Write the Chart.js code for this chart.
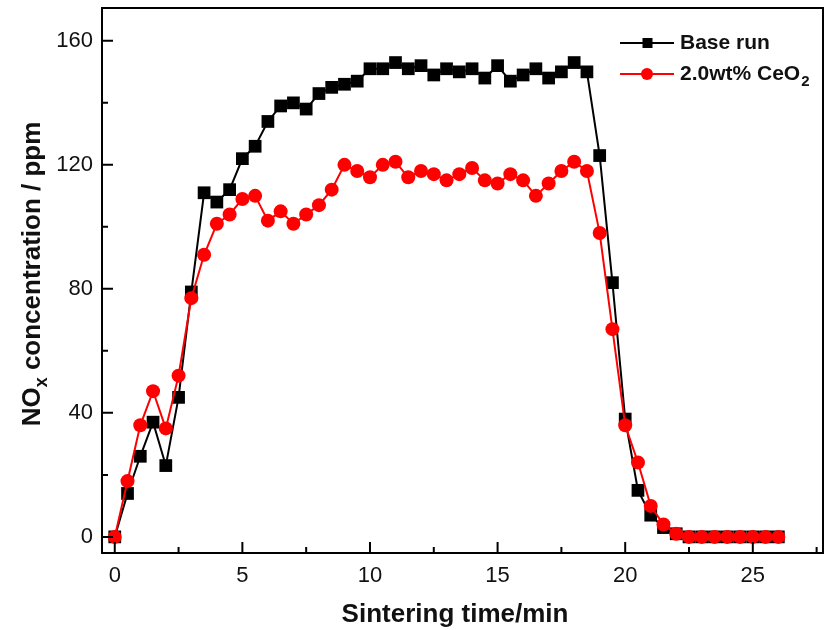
<!DOCTYPE html>
<html><head><meta charset="utf-8">
<script src="https://cdn.jsdelivr.net/npm/chart.js@4"></script>
<style>html,body{margin:0;padding:0;background:#fff}#wrap{width:825px;height:630px}</style>
</head><body><div id="wrap"><canvas id="c" width="825" height="630"></canvas></div>
<script>
// ---- data ----
const times = [0,0.5,1,1.5,2,2.5,3,3.5,4,4.5,5,5.5,6,6.5,7,7.5,8,8.5,9,9.5,10,10.5,11,11.5,12,12.5,13,13.5,14,14.5,15,15.5,16,16.5,17,17.5,18,18.5,19,19.5,20,20.5,21,21.5,22,22.5,23,23.5,24,24.5,25,25.5,26];
const baseRun = [0,14,26,37,23,45,79,111,108,112,122,126,134,139,140,138,143,145,146,147,151,151,153,151,152,149,151,150,151,148,152,147,149,151,148,150,153,150,123,82,38,15,7,3,1,0,0,0,0,0,0,0,0];
const ceo2 = [0,18,36,47,35,52,77,91,101,104,109,110,102,105,101,104,107,112,120,118,116,120,121,116,118,117,115,117,119,115,114,117,115,110,114,118,121,118,98,67,36,24,10,4,1,0,0,0,0,0,0,0,0];
const xTickValues = [0,5,10,15,20,25];
const xMinorTicks = [2.5,7.5,12.5,17.5,22.5,27.5];
const yTickValues = [0,40,80,120,160];
const yMinorTicks = [20,60,100,140];
const seriesNames = ['Base run','2.0wt% CeO2'];
const xTitle = 'Sintering time/min';

const toPts = vals => times.map((t,i)=>({x:t,y:vals[i]}));
const FONT = '"Liberation Sans", Arial, Helvetica, sans-serif';

const decor = {
  id:'decor',
  afterDraw(chart){
    const ctx = chart.ctx, a = chart.chartArea;
    const xs = chart.scales.x, ys = chart.scales.y;
    ctx.save();
    ctx.strokeStyle = '#000'; ctx.lineWidth = 2;
    // box top & right
    ctx.beginPath();
    ctx.moveTo(a.left-1, a.top); ctx.lineTo(a.right, a.top); ctx.lineTo(a.right, a.bottom+1);
    ctx.stroke();
    // inward ticks
    ctx.beginPath();
    xTickValues.forEach(v=>{const p=xs.getPixelForValue(v); ctx.moveTo(p,a.bottom); ctx.lineTo(p,a.bottom-11);});
    xMinorTicks.forEach(v=>{const p=xs.getPixelForValue(v); ctx.moveTo(p,a.bottom); ctx.lineTo(p,a.bottom-6);});
    yTickValues.forEach(v=>{const p=ys.getPixelForValue(v); ctx.moveTo(a.left,p); ctx.lineTo(a.left+11,p);});
    yMinorTicks.forEach(v=>{const p=ys.getPixelForValue(v); ctx.moveTo(a.left,p); ctx.lineTo(a.left+6,p);});
    ctx.stroke();

    // x title
    ctx.fillStyle = '#111';
    ctx.font = 'bold 26px ' + FONT;
    ctx.textAlign = 'center'; ctx.textBaseline = 'alphabetic';
    ctx.fillText(xTitle, 455, 622);

    // y title with subscript x
    ctx.save();
    ctx.translate(40, 274);
    ctx.rotate(-Math.PI/2);
    const big = 'bold 26px ' + FONT, small = 'bold 18px ' + FONT;
    const p1 = 'NO', p2 = 'x', p3 = ' concentration / ppm';
    ctx.font = big; const w1 = ctx.measureText(p1).width, w3 = ctx.measureText(p3).width;
    ctx.font = small; const w2 = ctx.measureText(p2).width;
    let sx = -(w1+w2+w3)/2;
    ctx.textAlign = 'left';
    ctx.font = big; ctx.fillText(p1, sx, 0); sx += w1;
    ctx.font = small; ctx.fillText(p2, sx, 7); sx += w2;
    ctx.font = big; ctx.fillText(p3, sx, 0);
    ctx.restore();

    // legend
    const rows = [
      {y:43, color:'#000', style:'rect', label:[seriesNames[0]]},
      {y:74, color:'#ff0000', style:'circle', label:['2.0wt% CeO','2']}
    ];
    rows.forEach(r=>{
      ctx.strokeStyle = r.color; ctx.fillStyle = r.color; ctx.lineWidth = 2;
      ctx.beginPath(); ctx.moveTo(620, r.y); ctx.lineTo(674, r.y); ctx.stroke();
      ctx.beginPath();
      if (r.style==='rect') ctx.rect(642.5, r.y-5, 10, 10);
      else ctx.arc(647, r.y, 6, 0, Math.PI*2);
      ctx.fill();
      ctx.fillStyle = '#111'; ctx.textAlign='left'; ctx.textBaseline='middle';
      ctx.font = 'bold 21px ' + FONT;
      ctx.fillText(r.label[0], 680, r.y);
      if (r.label[1]) {
        const w = ctx.measureText(r.label[0]).width;
        ctx.font = 'bold 15px ' + FONT;
        ctx.fillText(r.label[1], 680 + w + 1, r.y + 8);
      }
    });
    ctx.restore();
  }
};

new Chart(document.getElementById('c'), {
  type:'line',
  data:{datasets:[
    {label:seriesNames[0], data:toPts(baseRun), borderColor:'#000', backgroundColor:'#000',
     pointStyle:'rect', pointRadius:9, pointHoverRadius:9, pointBorderWidth:0, pointBackgroundColor:'#000',
     borderWidth:2, tension:0, order:1},
    {label:seriesNames[1], data:toPts(ceo2), borderColor:'#ff0000', backgroundColor:'#ff0000',
     pointStyle:'circle', pointRadius:7, pointHoverRadius:7, pointBorderWidth:0, pointBackgroundColor:'#ff0000',
     borderWidth:2, tension:0, order:0}
  ]},
  options:{
    responsive:false, animation:false, devicePixelRatio:1,
    layout:{autoPadding:false, padding:{top:8,right:2,left:0,bottom:0}},
    plugins:{legend:{display:false}, tooltip:{enabled:false}},
    scales:{
      x:{type:'linear', min:-0.5, max:27.75,
        afterBuildTicks:s=>{s.ticks = xTickValues.map(v=>({value:v}));},
        afterFit:s=>{s.height = 77; s.paddingLeft = 0; s.paddingRight = 0;},
        grid:{display:true, drawOnChartArea:false, drawTicks:false},
        border:{display:true, color:'#000', width:2},
        ticks:{padding:10, color:'#111', autoSkip:false, maxRotation:0, font:{family:FONT, size:22}}
      },
      y:{type:'linear', min:-5.2, max:170.6,
        afterBuildTicks:s=>{s.ticks = yTickValues.map(v=>({value:v}));},
        afterFit:s=>{s.width = 102; s.paddingTop = 0; s.paddingBottom = 0;},
        grid:{display:true, drawOnChartArea:false, drawTicks:false},
        border:{display:true, color:'#000', width:2},
        ticks:{padding:9, color:'#111', font:{family:FONT, size:22}}
      }
    }
  },
  plugins:[decor]
});
</script></body></html>
